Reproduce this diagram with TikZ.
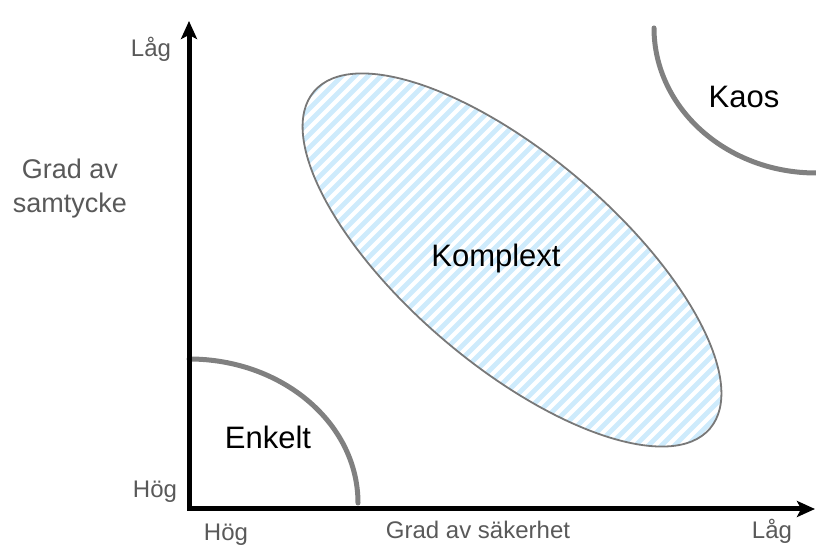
\documentclass[tikz,border=0pt]{standalone}
\usepackage{fontspec}
\setmainfont{Liberation Sans}
\usetikzlibrary{arrows.meta}
\definecolor{axisgray}{RGB}{89,89,89}
\definecolor{curvegray}{RGB}{128,128,128}
\definecolor{edgegray}{RGB}{120,120,120}
\definecolor{stripeblue}{RGB}{206,235,252}
\begin{document}
\begin{tikzpicture}[x=1pt,y=1pt,
  axislabel/.style={font=\fontsize{24}{28}\selectfont,text=axisgray,inner sep=0pt},
  sidelabel/.style={font=\fontsize{27}{32}\selectfont,text=axisgray,inner sep=0pt},
  zonelabel/.style={font=\fontsize{31}{36}\selectfont,text=black,inner sep=0pt},
  zonecurve/.style={draw=curvegray,line width=5pt,line cap=round},
  axisline/.style={line width=5pt,line join=miter,
    {Stealth[length=18pt,width=16pt,inset=4pt]}-{Stealth[length=18pt,width=16pt,inset=4pt]}}
]
\useasboundingbox (0,0) rectangle (816,545);
% complex ellipse
\begin{scope}
  \clip[rotate around={-40.4:(512,285)}] (512,285) ellipse [x radius=260, y radius=105];
  \foreach \i in {-60,...,60} {
    \draw[stripeblue,line width=4.8pt] (250+13*\i,0) -- ++(600,600);
  }
\end{scope}
\draw[edgegray,line width=1.8pt,rotate around={-40.4:(512,285)}] (512,285) ellipse [x radius=260, y radius=105];
% zone curves
\draw[zonecurve] (189,186) arc[start angle=90,end angle=0,x radius=169,y radius=144];
\draw[zonecurve] (654,517) arc[start angle=180,end angle=270,x radius=162,y radius=145];
% axes
\coordinate (ytip) at (189,524);
\coordinate (origin) at (189,36);
\coordinate (xtip) at (815,36);
\draw[axisline] (ytip) -- (origin) -- (xtip);
% labels
\node[axislabel,anchor=base] (ylow) at (151,488) {Låg};
\node[sidelabel,anchor=base] (ytitle1) at (70,366) {Grad av};
\node[sidelabel,anchor=base] (ytitle2) at (70,332) {samtycke};
\node[axislabel,anchor=base] (yhigh) at (155,47) {Hög};
\node[axislabel,anchor=base] (xhigh) at (226,4) {Hög};
\node[axislabel,anchor=base] (xtitle) at (478,6) {Grad av säkerhet};
\node[axislabel,anchor=base] (xlow) at (772,6) {Låg};
\node[zonelabel] (enkelt) at (268,108) {Enkelt};
\node[zonelabel] (komplext) at (496,287) {Komplext};
\node[zonelabel] (kaos) at (744,448) {Kaos};
\end{tikzpicture}
\end{document}
